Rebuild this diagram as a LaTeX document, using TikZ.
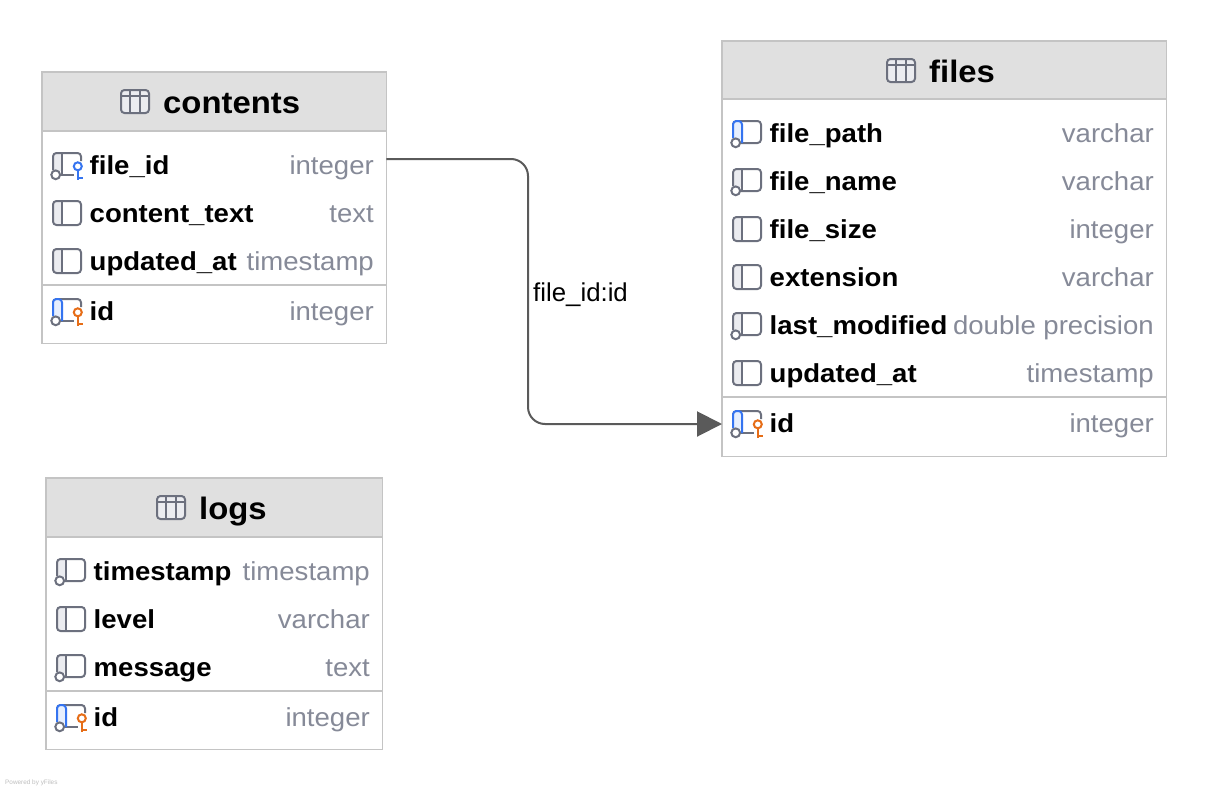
\documentclass[tikz,border=0pt]{standalone}
\usepackage{fontspec}
\setmainfont{Liberation Sans}
\newfontfamily\dbfont[FakeStretch=1.06]{Liberation Sans}
\usetikzlibrary{arrows.meta}
\definecolor{tblborder}{HTML}{C4C4C4}
\definecolor{hdrfill}{HTML}{E0E0E0}
\definecolor{icongray}{HTML}{6C707E}
\definecolor{bandgray}{HTML}{EBECF0}
\definecolor{iconblue}{HTML}{3574F0}
\definecolor{bandblue}{HTML}{E7EFFD}
\definecolor{iconorange}{HTML}{E66D17}
\definecolor{typegray}{HTML}{868A98}
\definecolor{edgegray}{HTML}{5A5A5A}
\tikzset{
  tablebox/.style={fill=white,rectangle,inner sep=0pt,anchor=north west},
  hdrbox/.style={fill=hdrfill,rectangle,inner sep=0pt,anchor=north west},
  rowbox/.style={rectangle,inner sep=0pt,anchor=west,minimum height=48pt},
  titletext/.style={font=\dbfont\bfseries\fontsize{31}{34}\selectfont,anchor=base west,inner sep=0pt,text=black},
  coltext/.style={font=\dbfont\bfseries\fontsize{26}{30}\selectfont,anchor=base west,inner sep=0pt,text=black},
  typetext/.style={font=\dbfont\fontsize{26}{30}\selectfont,anchor=base east,inner sep=0pt,text=typegray},
  edgelabel/.style={font=\fontsize{25.8}{30}\selectfont,anchor=base west,inner sep=0pt,text=black},
  iconline/.style={draw=icongray,line width=2pt},
  relation/.style={draw=edgegray,line width=2pt,rounded corners=17pt,-{Triangle[length=25pt,width=25pt,fill=edgegray]}},
  sepline/.style={draw=tblborder,line width=1.2pt},
}
\newcommand{\plainicon}{%
  \fill[bandgray,rounded corners=3pt] (11,-12) rectangle (20,12);
  \draw[iconline,rounded corners=3.5pt] (11,-12) rectangle (39,12);
  \draw[iconline] (20,-12) -- (20,12);}
\newcommand{\circlebit}{\draw[iconline,fill=white] (13.7,9.8) circle (4.4);}
\newcommand{\bodyfull}{%
  \draw[iconline,rounded corners=3.5pt] (18,10) -- (39,10) -- (39,-12) -- (11,-12) -- (11,5);}
\newcommand{\bodykey}{%
  \draw[iconline,rounded corners=3.5pt] (18,10) -- (32,10);
  \draw[iconline,rounded corners=3.5pt] (39,-4) -- (39,-12) -- (11,-12) -- (11,5);}
\newcommand{\grayband}{%
  \fill[bandgray] (12,-11) rectangle (20,6);
  \draw[iconline] (20,-12) -- (20,10);}
\newcommand{\blueband}{%
  \fill[bandblue] (12,-11) rectangle (20,6);
  \draw[draw=iconblue,line width=2pt,rounded corners=3.5pt] (11,5) -- (11,-12) -- (20,-12) -- (20,10);}
\newcommand{\keybit}[1]{%
  \draw[draw=#1,line width=2pt] (35.8,1.3) circle (4);
  \draw[draw=#1,line width=2pt] (35.8,5.3) -- (35.8,14.5);
  \draw[draw=#1,line width=2pt] (35.8,12.5) -- (41,12.5);}
\newcommand{\iconP}{\plainicon}
\newcommand{\iconN}{\grayband\bodyfull\circlebit}
\newcommand{\iconI}{\bodyfull\blueband\circlebit}
\newcommand{\iconF}{\grayband\bodykey\circlebit\keybit{iconblue}}
\newcommand{\iconK}{\bodykey\blueband\circlebit\keybit{iconorange}}
% \dbrow{id}{left}{right}{y}{icon}{column}{type}
\newcommand{\dbrow}[7]{%
  \pgfmathsetmacro{\rw}{#3-#2}
  \node[rowbox,minimum width=\rw pt] (#1) at (#2,#4) {};
  \begin{scope}[shift={(#2,#4)}]#5\end{scope}
  \node[coltext] (#1-name) at (#2+47.5,#4+9) {#6};
  \node[typetext] (#1-type) at (#3-12,#4+9) {#7};}
% \dbtable{id}{x1}{y1}{x2}{y2}{header bottom}{separator}{title}{title x}
\newcommand{\dbtable}[9]{%
  \pgfmathsetmacro{\tw}{#4-#2}\pgfmathsetmacro{\th}{#5-#3}\pgfmathsetmacro{\hh}{#6-#3}
  \node[tablebox,minimum width=\tw pt,minimum height=\th pt] (#1) at (#2,#3) {};
  \node[hdrbox,minimum width=\tw pt,minimum height=\hh pt] (#1-hdr) at (#2,#3) {};
  \draw[sepline] (#1.north west) rectangle (#1.south east);
  \draw[sepline] (#2,#6) -- (#4,#6);
  \draw[sepline] (#2,#7) -- (#4,#7);
  \begin{scope}[shift={(#9,#3)}]
    \draw[iconline,fill=bandgray,rounded corners=3.5pt] (-42,18) rectangle (-14,41);
    \draw[iconline] (-42,24) -- (-14,24) (-33,18) -- (-33,41) (-23,18) -- (-23,41);
  \end{scope}
  \node[titletext] (#1-title) at (#9,#3+41) {#8};}
\begin{document}
\begin{tikzpicture}[x=1pt,y=-1pt]
\useasboundingbox (0,0) rectangle (1208,790);
\fill[white] (0,0) rectangle (1208,790);

\dbtable{contents}{42}{72}{386}{343}{131}{285}{contents}{163}
\dbrow{c1}{42}{386}{165}{\iconF}{file\_id}{integer}
\dbrow{c2}{42}{386}{213}{\iconP}{content\_text}{text}
\dbrow{c3}{42}{386}{261}{\iconP}{updated\_at}{timestamp}
\dbrow{c4}{42}{386}{311}{\iconK}{id}{integer}

\dbtable{files}{722}{41}{1166}{456}{99}{397}{files}{929}
\dbrow{f1}{722}{1166}{133}{\iconI}{file\_path}{varchar}
\dbrow{f2}{722}{1166}{181}{\iconN}{file\_name}{varchar}
\dbrow{f3}{722}{1166}{229}{\iconP}{file\_size}{integer}
\dbrow{f4}{722}{1166}{277}{\iconP}{extension}{varchar}
\dbrow{f5}{722}{1166}{325}{\iconN}{last\_modified}{double precision}
\dbrow{f6}{722}{1166}{373}{\iconP}{updated\_at}{timestamp}
\dbrow{f7}{722}{1166}{423}{\iconK}{id}{integer}

\dbtable{logs}{46}{478}{382}{749}{537}{691}{logs}{199}
\dbrow{l1}{46}{382}{571}{\iconN}{timestamp}{timestamp}
\dbrow{l2}{46}{382}{619}{\iconP}{level}{varchar}
\dbrow{l3}{46}{382}{667}{\iconN}{message}{text}
\dbrow{l4}{46}{382}{717}{\iconK}{id}{integer}

\coordinate (relstart) at ([yshift=6pt]c1.east);
\coordinate (relend) at ([yshift=-1pt]f7.west);
\coordinate (relmid) at (528,292);
\draw[relation] (relstart) -- (relstart -| relmid) -- (relend -| relmid) -- (relend);
\node[edgelabel] (rellabel) at (533,301) {file\_id:id};

\node[font=\fontsize{6.4}{8}\selectfont,text=black!25,anchor=base west,inner sep=0pt] (powered) at (5,784) {Powered by yFiles};
\end{tikzpicture}
\end{document}
